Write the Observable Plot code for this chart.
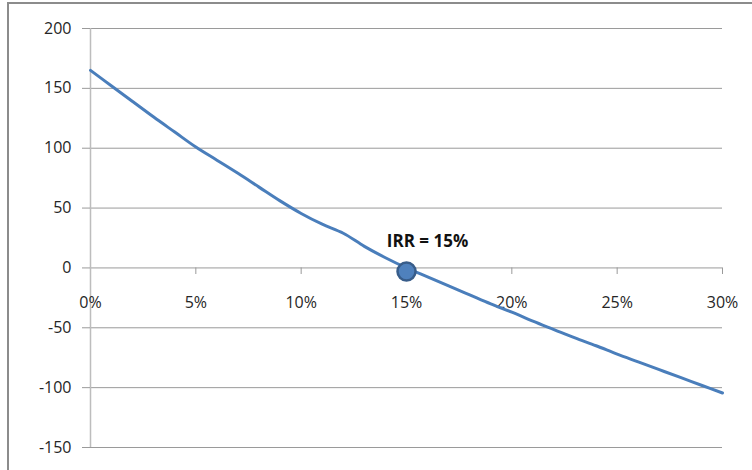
<!DOCTYPE html>
<html>
<head>
<meta charset="utf-8">
<script src="https://cdn.jsdelivr.net/npm/d3@7"></script>
<script src="https://cdn.jsdelivr.net/npm/@observablehq/plot@0.6"></script>
<style>
  html, body { margin: 0; padding: 0; background: #fff; }
  #wrap { position: relative; width: 752px; height: 470px; overflow: hidden; }
  #border { position: absolute; left: 7px; top: 2px; width: 800px; height: 520px;
            border: 2px solid #8c8c8c; box-sizing: border-box; pointer-events: none; }
</style>
</head>
<body>
<div id="wrap"><div id="border"></div></div>
<script>
// Discount rate (%) and NPV
const rates = [0,1,2,3,4,5,6,7,8,9,10,11,12,13,14,15,16,17,18,19,20,21,22,23,24,25,26,27,28,29,30];
const npv   = [165,152,139,126,113.5,101,90,79,67.5,56,45.5,36.5,29,18,8.5,0,-7.5,-15,-22.5,-30,-37,-44.5,-51.5,-58.5,-65,-72,-78.5,-85,-91.5,-98,-104.5];
const yTicks = [-150,-100,-50,0,50,100,150,200];
const xTicks = [0,5,10,15,20,25,30];
const xTickLabels = ["0%","5%","10%","15%","20%","25%","30%"];
const irr = [{rate: 15, npv: -3, label: "IRR = 15%"}];

const data = rates.map((r, i) => ({rate: r, npv: npv[i]}));
const font = "Open Sans, Noto Sans, sans-serif";

const chart = Plot.plot({
  width: 752,
  height: 470,
  marginLeft: 90,
  marginRight: 30,
  marginTop: 28,
  marginBottom: 23,
  style: {fontFamily: font, fontSize: "16px", color: "#262626", background: "transparent"},
  x: {domain: [0, 30], axis: null},
  y: {domain: [-150, 200], ticks: yTicks, label: null},
  marks: [
    Plot.ruleY(yTicks, {stroke: "#9a9a9a", strokeWidth: 1}),
    Plot.ruleX([0], {stroke: "#bdbdbd", strokeWidth: 1.5}),
    Plot.ruleX(xTicks.slice(1), {x: d => d, y1: 0, y2: -5.5, stroke: "#9a9a9a"}),
    Plot.axisY({ticks: yTicks, tickSize: 8, tickPadding: 11, stroke: "#9a9a9a", label: null,
                tickFormat: d => String(d), fontSize: 16, fill: "#262626"}),
    Plot.text(xTicks, {x: d => d, y: () => 0, dy: 35, text: (d, i) => xTickLabels[i],
                       fontSize: 16, fill: "#262626"}),
    Plot.line(data, {x: "rate", y: "npv", stroke: "#4a7ebb", strokeWidth: 3, curve: "catmull-rom"}),
    Plot.dot(irr, {x: "rate", y: "npv", r: 9, fill: "#4f81bd", stroke: "#385d8a", strokeWidth: 2.5}),
    Plot.text(irr, {x: "rate", y: "npv", text: "label", dx: 21, dy: -30, fontSize: 17,
                    fontWeight: "bold", fill: "#111"})
  ]
});
document.getElementById("wrap").prepend(chart);
</script>
</body>
</html>
